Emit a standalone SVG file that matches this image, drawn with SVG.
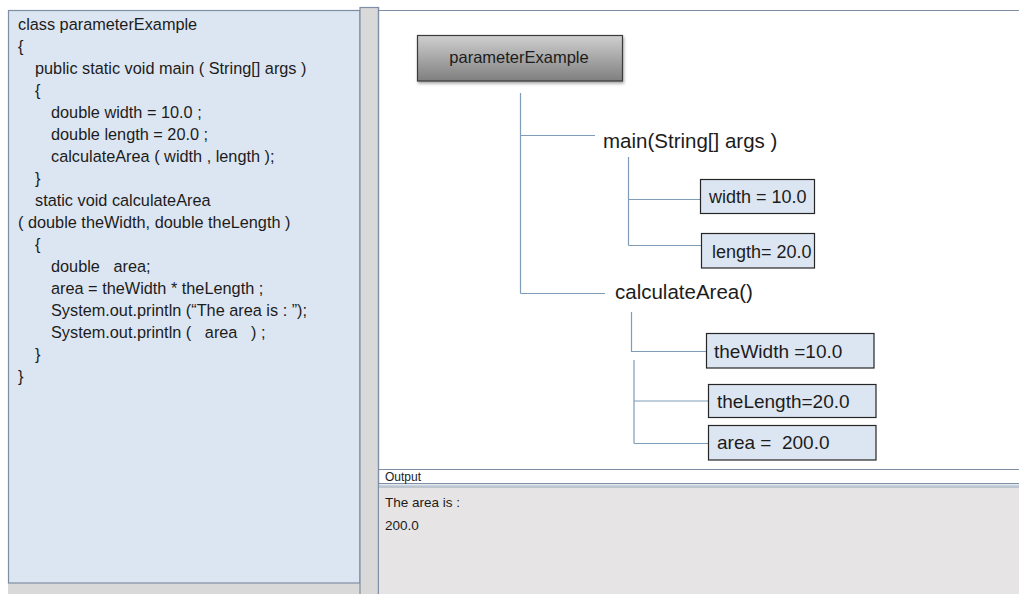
<svg xmlns="http://www.w3.org/2000/svg" width="1019" height="594" viewBox="0 0 1019 594">
  <defs>
    <linearGradient id="classFill" x1="0" y1="0" x2="0" y2="1">
      <stop offset="0" stop-color="#cfcfcf"/>
      <stop offset="1" stop-color="#7f7f7f"/>
    </linearGradient>
    <filter id="shadow" x="-10%" y="-20%" width="130%" height="160%">
      <feDropShadow dx="1" dy="2" stdDeviation="1.5" flood-color="#000" flood-opacity="0.35"/>
    </filter>
  </defs>
  <style>
    text { font-family: "Liberation Sans", Arial, sans-serif; fill: #1c1c1c; white-space: pre; }
    .code { font-size: 16.3px; }
    .out { font-size: 13.5px; }
    .method { font-size: 20.5px; }
    .var { font-size: 18px; }
    .var2 { font-size: 19px; }
    .varbox { fill: #dce6f2; stroke: #262626; stroke-width: 1.2; }
    .conn { fill: none; stroke: #7f9db9; stroke-width: 1.2; }
    .frame { stroke: #7f8ea4; stroke-width: 1.2; }
  </style>

  <!-- window background -->
  <rect x="0" y="0" width="1019" height="594" fill="#ffffff"/>

  <!-- source code pane -->
  <g id="code-pane">
    <rect x="8" y="583" width="352" height="11" fill="#d9d9d9"/>
    <rect x="8.5" y="10.5" width="351.5" height="572.5" fill="#dce6f2" class="frame"/>
    <rect x="360" y="7.5" width="18.5" height="590" fill="#d9d9d9" class="frame"/>
    <text class="code" x="18" y="30">class parameterExample</text>
    <text class="code" x="18" y="52">{</text>
    <text class="code" x="35" y="74">public static void main ( String[] args )</text>
    <text class="code" x="35" y="96">{</text>
    <text class="code" x="51" y="118">double width = 10.0 ;</text>
    <text class="code" x="51" y="140">double length = 20.0 ;</text>
    <text class="code" x="51" y="162">calculateArea ( width , length );</text>
    <text class="code" x="35" y="184">}</text>
    <text class="code" x="35" y="206">static void calculateArea</text>
    <text class="code" x="18" y="228">( double theWidth, double theLength )</text>
    <text class="code" x="35" y="250">{</text>
    <text class="code" x="51" y="272">double   area;</text>
    <text class="code" x="51" y="294">area = theWidth * theLength ;</text>
    <text class="code" x="51" y="316">System.out.println (“The area is : ”);</text>
    <text class="code" x="51" y="338">System.out.println (   area   ) ;</text>
    <text class="code" x="35" y="360">}</text>
    <text class="code" x="18" y="382">}</text>
  </g>

  <!-- memory diagram pane -->
  <g id="diagram-pane">
    <line x1="378.5" y1="10.5" x2="1019" y2="10.5" class="frame"/>
    <line x1="378.5" y1="7" x2="378.5" y2="594" class="frame"/>
  </g>

  <!-- output pane -->
  <g id="output-pane">
    <rect x="379" y="487" width="640" height="107" fill="#e6e4e4"/>
    <line x1="379" y1="469.5" x2="1019" y2="469.5" class="frame"/>
    <line x1="379" y1="483.5" x2="1019" y2="483.5" stroke="#7f8ea4" stroke-width="1.2"/>
    <line x1="379" y1="485.5" x2="1019" y2="485.5" stroke="#c9d3de" stroke-width="2"/>
    <line x1="379" y1="487" x2="1019" y2="487" stroke="#95a5b8" stroke-width="1"/>
    <text x="385" y="481" font-size="12px">Output</text>
    <text class="out" x="385" y="507">The area is :</text>
    <text class="out" x="385" y="530">200.0</text>
  </g>

  <!-- tree connectors -->
  <g id="connectors">
    <path class="conn" d="M520.5 93 V293.5 M520.5 135.5 H595 M520.5 293.5 H605"/>
    <path class="conn" d="M628.5 157 V245.5 M628.5 199.5 H700 M628.5 245.5 H701"/>
    <path class="conn" d="M631.5 312 V351.5 H706"/>
    <path class="conn" d="M634 360 V443.5 M634 401 H708 M634 443.5 H708"/>
  </g>

  <g id="node-parameterExample">
    <rect x="417.5" y="35.5" width="205" height="45.5" fill="url(#classFill)" stroke="#3a3a3a" stroke-width="1.2" filter="url(#shadow)"/>
    <text x="519" y="63" font-size="16.5px" text-anchor="middle" fill="#262626">parameterExample</text>
  </g>

  <g id="node-main">
    <text class="method" x="603" y="148">main(String[] args )</text>
  </g>

  <g id="node-width">
    <rect class="varbox" x="700.5" y="179.5" width="114" height="34"/>
    <text class="var" x="709" y="203">width = 10.0</text>
  </g>

  <g id="node-length">
    <rect class="varbox" x="701.5" y="233.5" width="113" height="34.5"/>
    <text class="var" x="712" y="258">length= 20.0</text>
  </g>

  <g id="node-calculateArea">
    <text class="method" x="615" y="299">calculateArea()</text>
  </g>

  <g id="node-theWidth">
    <rect class="varbox" x="706.5" y="333.5" width="167.5" height="34.5"/>
    <text class="var2" x="714" y="358">theWidth =10.0</text>
  </g>

  <g id="node-theLength">
    <rect class="varbox" x="708.5" y="384.5" width="167.5" height="33"/>
    <text class="var2" x="717" y="408">theLength=20.0</text>
  </g>

  <g id="node-area">
    <rect class="varbox" x="708.5" y="425.5" width="167.5" height="34.5"/>
    <text class="var2" x="717" y="449">area =  200.0</text>
  </g>
</svg>
